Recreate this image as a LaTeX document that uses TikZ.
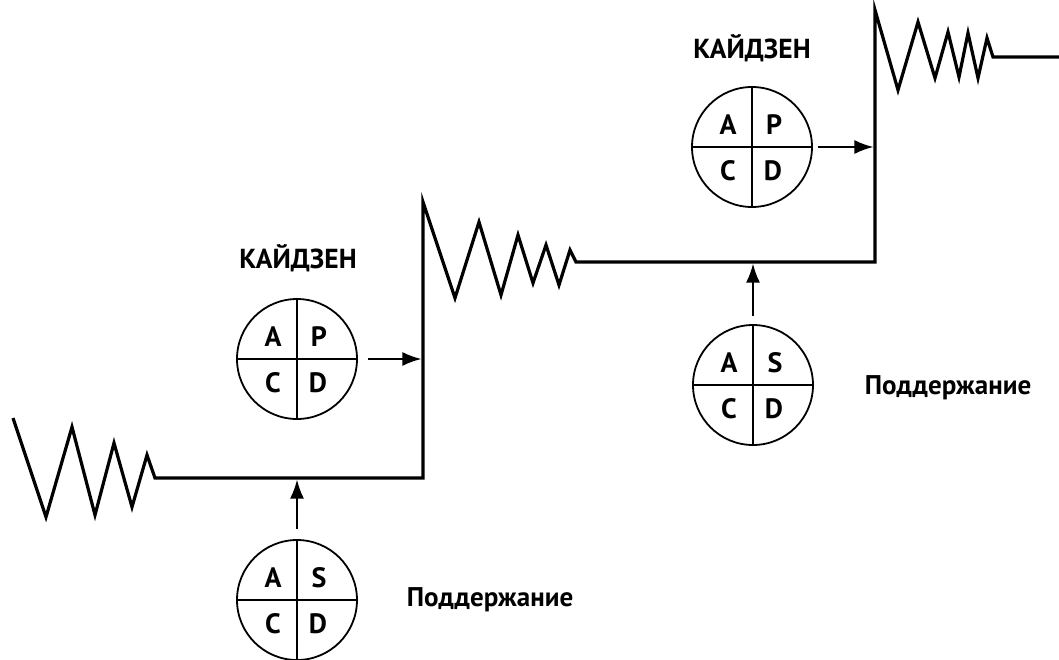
\documentclass[tikz,border=0pt]{standalone}
\usepackage{fontspec}
\setmainfont{PT Sans}
\usetikzlibrary{arrows.meta}
\tikzset{
  stairline/.style={line width=3.2pt, line join=miter, line cap=butt},
  pdcacircle/.style={circle, draw, line width=1.8pt, minimum size=120pt, inner sep=0pt},
  crossline/.style={line width=1.8pt},
  letter/.style={font=\bfseries\fontsize{28}{30}\selectfont},
  title/.style={font=\bfseries\fontsize{27.5}{30}\selectfont},
  maint/.style={font=\bfseries\fontsize{27}{30}\selectfont},
  feed/.style={line width=1.8pt, -{Latex[length=19pt,width=14pt]}, shorten >=1.6pt}
}
\newcommand{\pdcawheel}[6]{%
  \node[pdcacircle] (#1) at (#2) {};
  \draw[crossline] (#1.north) -- (#1.south);
  \draw[crossline] (#1.west) -- (#1.east);
  \node[letter] (#1-a) at ([shift={(-24,-22)}]#1.center) {#3};
  \node[letter] (#1-b) at ([shift={(22,-22)}]#1.center) {#4};
  \node[letter] (#1-c) at ([shift={(-24,24)}]#1.center) {#5};
  \node[letter] (#1-d) at ([shift={(21,24)}]#1.center) {#6};
}
\begin{document}
\begin{tikzpicture}[x=1pt,y=-1pt]
\useasboundingbox (0,0) rectangle (1059,659);
% staircase path points
\coordinate (s1) at (155,478);
\coordinate (c1) at (423,478);
\coordinate (t1) at (423,202);
\coordinate (s2) at (576,262);
\coordinate (c2) at (875,262);
\coordinate (t2) at (875,10);
\coordinate (s3) at (993,57);
\coordinate (e3) at (1059,57);
\draw[stairline] (13,418) -- (46,517) -- (72,427) -- (95,515) -- (114,443) -- (132,507) -- (147,455) -- (s1)
  -- (c1) -- (t1)
  -- (455,298) -- (479,222) -- (501,295) -- (518,235) -- (533,283) -- (546,245) -- (559,285) -- (570,250) -- (s2)
  -- (c2) -- (t2)
  -- (898,90) -- (918,22) -- (935,78) -- (948,32) -- (959,77) -- (968,33) -- (978,78) -- (987,38) -- (s3) -- (e3);
% wheels
\pdcawheel{k1}{297,359}{A}{P}{C}{D}
\pdcawheel{m1}{297,600}{A}{S}{C}{D}
\pdcawheel{k2}{752,147}{A}{P}{C}{D}
\pdcawheel{m2}{753,385}{A}{S}{C}{D}
% labels
\node[title] (tk1) at (298,258) {КАЙДЗЕН};
\node[title] (tk2) at (752,48) {КАЙДЗЕН};
\node[maint] (tm1) at (490,600) {Поддержание};
\node[maint] (tm2) at (948,388) {Поддержание};
% arrow targets on the staircase
\coordinate (a1) at (423,359);
\coordinate (a2) at (297,478);
\coordinate (a3) at (875,147);
\coordinate (a4) at (753,262);
\draw[feed] ([xshift=10pt]k1.east) -- (a1);
\draw[feed] ([yshift=10pt]m1.north) -- (a2);
\draw[feed] ([xshift=5pt]k2.east) -- (a3);
\draw[feed] ([yshift=8pt]m2.north) -- (a4);
\end{tikzpicture}
\end{document}
